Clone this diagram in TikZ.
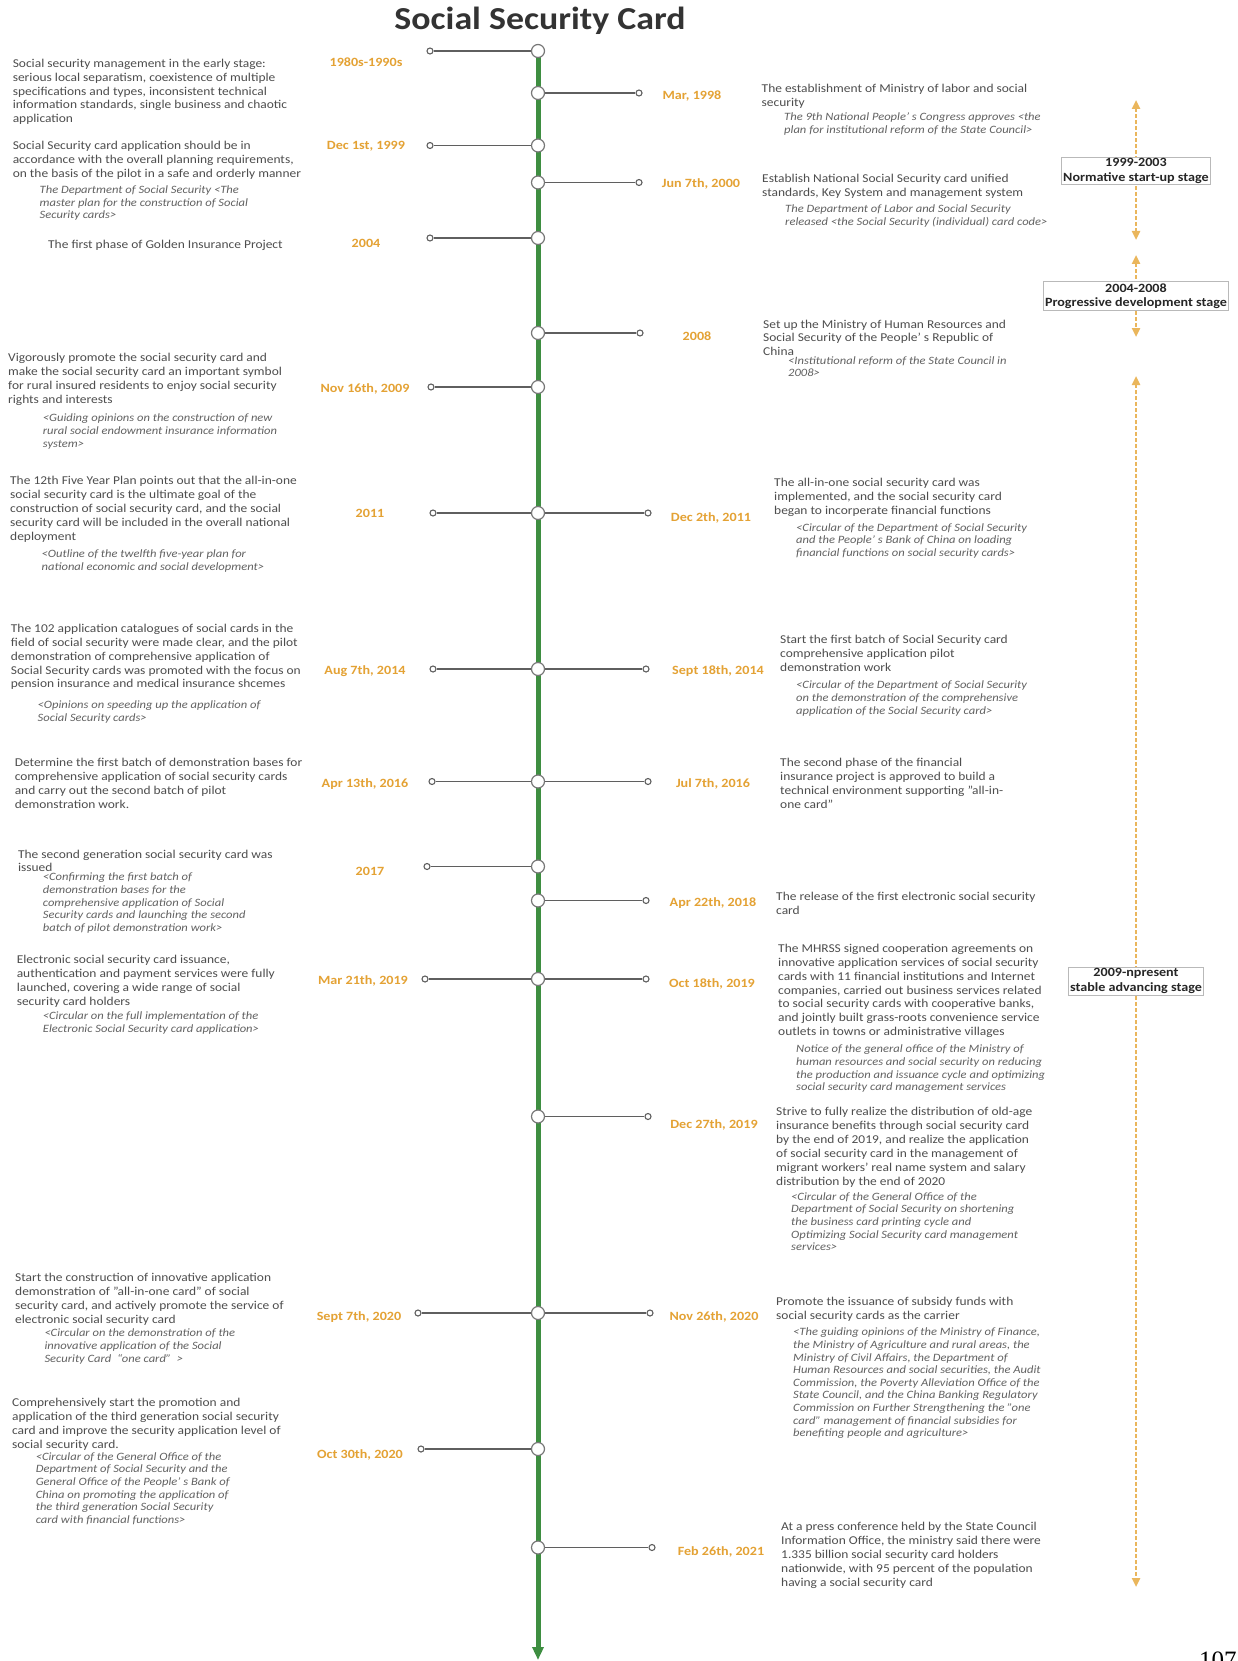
\documentclass[tikz,border=0pt]{standalone}
\usepackage{fontspec}
\setmainfont{Carlito}[FakeStretch=1.12]
\newfontfamily\pagefont{Liberation Serif}
\usetikzlibrary{arrows.meta}
\definecolor{tlgreen}{RGB}{62,142,65}
\definecolor{bodygray}{RGB}{78,78,78}
\definecolor{citegray}{RGB}{98,98,98}
\definecolor{dateorange}{RGB}{228,162,52}
\definecolor{linegray}{RGB}{95,95,95}
\definecolor{stageorange}{RGB}{234,182,92}
\newcommand\mylines[1]{\begin{tabular}[t]{@{}l@{}}#1\end{tabular}}
\begin{document}
\begin{tikzpicture}[x=1pt,y=-1pt,
  bigdot/.style={circle, draw=linegray!85, fill=white, line width=1.2, minimum size=13, inner sep=0},
  smalldot/.style={circle, draw=linegray, fill=white, line width=1.1, minimum size=6, inner sep=0},
  conn/.style={draw=linegray, line width=1.4},
  bodytext/.style={anchor=base west, inner sep=0, text=bodygray, font=\fontsize{12}{13.9}\selectfont},
  citetext/.style={anchor=base west, inner sep=0, text=citegray, font=\fontsize{11.2}{12.6}\selectfont\itshape},
  datelabel/.style={anchor=center, inner sep=0, text=dateorange, font=\fontsize{12.6}{14}\selectfont\bfseries, text height=8, text depth=0},
  stagearrow/.style={draw=stageorange, line width=2.2, dash pattern=on 4 off 2,
     {Triangle[width=8,length=9,fill=stageorange]}-{Triangle[width=8,length=9,fill=stageorange]}},
  stagebox/.style={draw=gray!55, fill=white, line width=0.8, inner xsep=1.5, inner ysep=1.5, align=center, text=black!85, font=\fontsize{12.6}{14.4}\selectfont\bfseries},
  timeline/.style={draw=tlgreen, line width=5, -{Triangle[width=11,length=13,fill=tlgreen]}}
]
\clip (0,0) rectangle (1237,1661);
\fill[white] (0,0) rectangle (1237,1661);

% title
\node[font=\fontsize{32}{36}\selectfont\bfseries, text=black!80, inner sep=0] (title) at (540,21) {Social Security Card};

% timeline
\coordinate (ttop) at (538,51);
\coordinate (tend) at (538,1660);
\draw[timeline] (ttop) -- (tend);

% timeline circles
\node[bigdot] (tA) at (538,51) {};
\node[bigdot] (tB) at (538,93) {};
\node[bigdot] (tC) at (538,145.5) {};
\node[bigdot] (tD) at (538,182.5) {};
\node[bigdot] (tE) at (538,238) {};
\node[bigdot] (tF) at (538,333) {};
\node[bigdot] (tG) at (538,387) {};
\node[bigdot] (tH) at (538,513) {};
\node[bigdot] (tI) at (538,669) {};
\node[bigdot] (tJ) at (538,781.5) {};
\node[bigdot] (tK) at (538,866.5) {};
\node[bigdot] (tL) at (538,900.5) {};
\node[bigdot] (tM) at (538,979) {};
\node[bigdot] (tN) at (538,1116.5) {};
\node[bigdot] (tO) at (538,1313) {};
\node[bigdot] (tP) at (538,1449) {};
\node[bigdot] (tQ) at (538,1547.5) {};

% left end dots
\node[smalldot] (lA) at (430,51) {};
\node[smalldot] (lC) at (430,145.5) {};
\node[smalldot] (lE) at (430,238) {};
\node[smalldot] (lG) at (431,387) {};
\node[smalldot] (lH) at (433,513) {};
\node[smalldot] (lI) at (433,669) {};
\node[smalldot] (lJ) at (432,781.5) {};
\node[smalldot] (lK) at (427,866.5) {};
\node[smalldot] (lM) at (425,979) {};
\node[smalldot] (lO) at (418,1313) {};
\node[smalldot] (lP) at (421,1449) {};

% right end dots
\node[smalldot] (rB) at (639,93) {};
\node[smalldot] (rD) at (639,182.5) {};
\node[smalldot] (rF) at (640,333) {};
\node[smalldot] (rH) at (648,513) {};
\node[smalldot] (rI) at (646,669) {};
\node[smalldot] (rJ) at (648,781.5) {};
\node[smalldot] (rL) at (646,900.5) {};
\node[smalldot] (rM) at (646,979) {};
\node[smalldot] (rN) at (648,1116.5) {};
\node[smalldot] (rO) at (650,1313) {};
\node[smalldot] (rQ) at (652,1547.5) {};

% connectors
\foreach \a/\b in {tA/lA,tC/lC,tE/lE,tG/lG,tH/lH,tI/lI,tJ/lJ,tK/lK,tM/lM,tO/lO,tP/lP,
                   tB/rB,tD/rD,tF/rF,tH/rH,tI/rI,tJ/rJ,tL/rL,tM/rM,tN/rN,tO/rO,tQ/rQ}
  \draw[conn] (\a) -- (\b);

% date labels left
\node[datelabel] (dA) at (366,63) {1980s-1990s};
\node[datelabel] (dC) at (366,146) {Dec 1st, 1999};
\node[datelabel] (dE) at (366,244) {2004};
\node[datelabel] (dG) at (365,388) {Nov 16th, 2009};
\node[datelabel] (dH) at (370,513) {2011};
\node[datelabel] (dI) at (365,670) {Aug 7th, 2014};
\node[datelabel] (dJ) at (365,783) {Apr 13th, 2016};
\node[datelabel] (dK) at (370,871) {2017};
\node[datelabel] (dM) at (363,980) {Mar 21th, 2019};
\node[datelabel] (dO) at (359,1316) {Sept 7th, 2020};
\node[datelabel] (dP) at (360,1454) {Oct 30th, 2020};

% date labels right
\node[datelabel] (eB) at (692,96) {Mar, 1998};
\node[datelabel] (eD) at (701,184) {Jun 7th, 2000};
\node[datelabel] (eF) at (697,337) {2008};
\node[datelabel] (eH) at (711,517) {Dec 2th, 2011};
\node[datelabel] (eI) at (718,670) {Sept 18th, 2014};
\node[datelabel] (eJ) at (713,783) {Jul 7th, 2016};
\node[datelabel] (eL) at (713,902) {Apr 22th, 2018};
\node[datelabel] (eM) at (712,983) {Oct 18th, 2019};
\node[datelabel] (eN) at (714,1124) {Dec 27th, 2019};
\node[datelabel] (eO) at (714,1316) {Nov 26th, 2020};
\node[datelabel] (eQ) at (721,1551) {Feb 26th, 2021};

% left texts
\node[bodytext] (xA) at (12.6,67.3) {\mylines{Social security management in the early stage:\\serious local separatism, coexistence of multiple\\specifications and types, inconsistent technical\\information standards, single business and chaotic\\application}};
\node[bodytext] (xC) at (12.6,150) {\mylines{Social Security card application should be in\\accordance with the overall planning requirements,\\on the basis of the pilot in a safe and orderly manner}};
\node[citetext] (cC) at (39.5,193.5) {\mylines{The Department of Social Security <The\\master plan for the construction of Social\\Security cards>}};
\node[bodytext] (xE) at (48,248.3) {\mylines{The first phase of Golden Insurance Project}};
\node[bodytext] (xG) at (8,361.3) {\mylines{Vigorously promote the social security card and\\make the social security card an important symbol\\for rural insured residents to enjoy social security\\rights and interests}};
\node[citetext] (cG) at (42.7,421.8) {\mylines{<Guiding opinions on the construction of new\\rural social endowment insurance information\\system>}};
\node[bodytext] (xH) at (10,484.7) {\mylines{The 12th Five Year Plan points out that the all-in-one\\social security card is the ultimate goal of the\\construction of social security card, and the social\\security card will be included in the overall national\\deployment}};
\node[citetext] (cH) at (41.5,557.8) {\mylines{<Outline of the twelfth five-year plan for\\national economic and social development>}};
\node[bodytext] (xI) at (10.7,632.3) {\mylines{The 102 application catalogues of social cards in the\\field of social security were made clear, and the pilot\\demonstration of comprehensive application of\\Social Security cards was promoted with the focus on\\pension insurance and medical insurance shcemes}};
\node[citetext] (cI) at (37.5,708.5) {\mylines{<Opinions on speeding up the application of\\Social Security cards>}};
\node[bodytext] (xJ) at (14.6,766.3) {\mylines{Determine the first batch of demonstration bases for\\comprehensive application of social security cards\\and carry out the second batch of pilot\\demonstration work.}};
\node[bodytext] (xK) at (17.8,858) {\mylines{The second generation social security card was\\issued}};
\node[citetext] (cK) at (42.7,880.8) {\mylines{<Confirming the first batch of\\demonstration bases for the\\comprehensive application of Social\\Security cards and launching the second\\batch of pilot demonstration work>}};
\node[bodytext] (xM) at (16.6,963.3) {\mylines{Electronic social security card issuance,\\authentication and payment services were fully\\launched, covering a wide range of social\\security card holders}};
\node[citetext] (cM) at (42.7,1019.5) {\mylines{<Circular on the full implementation of the\\Electronic Social Security card application>}};
\node[bodytext] (xO) at (15,1281.7) {\mylines{Start the construction of innovative application\\demonstration of "all-in-one card" of social\\security card, and actively promote the service of\\electronic social security card}};
\node[citetext] (cO) at (44.3,1336.8) {\mylines{<Circular on the demonstration of the\\innovative application of the Social\\Security Card \ “one card” \ >}};
\node[bodytext] (xP) at (11.9,1406.7) {\mylines{Comprehensively start the promotion and\\application of the third generation social security\\card and improve the security application level of\\social security card.}};
\node[citetext] (cP) at (35.6,1460.2) {\mylines{<Circular of the General Office of the\\Department of Social Security and the\\General Office of the People’ s Bank of\\China on promoting the application of\\the third generation Social Security\\card with financial functions>}};

% right texts
\node[bodytext] (yB) at (761.5,92.3) {\mylines{The establishment of Ministry of labor and social\\security}};
\node[citetext] (kB) at (784,120.8) {\mylines{The 9th National People’ s Congress approves <the\\plan for institutional reform of the State Council>}};
\node[bodytext] (yD) at (762,183) {\mylines{Establish National Social Security card unified\\standards, Key System and management system}};
\node[citetext] (kD) at (785,212.5) {\mylines{The Department of Labor and Social Security\\released <the Social Security (individual) card code>}};
\node[bodytext] (yF) at (763,328) {\mylines{Set up the Ministry of Human Resources and\\Social Security of the People’ s Republic of\\China}};
\node[citetext] (kF) at (788,364.2) {\mylines{<Institutional reform of the State Council in\\2008>}};
\node[bodytext] (yH) at (774,486.7) {\mylines{The all-in-one social security card was\\implemented, and the social security card\\began to incorperate financial functions}};
\node[citetext] (kH) at (796,531.2) {\mylines{<Circular of the Department of Social Security\\and the People’ s Bank of China on loading\\financial functions on social security cards>}};
\node[bodytext] (yI) at (780,643.3) {\mylines{Start the first batch of Social Security card\\comprehensive application pilot\\demonstration work}};
\node[citetext] (kI) at (796,688.8) {\mylines{<Circular of the Department of Social Security\\on the demonstration of the comprehensive\\application of the Social Security card>}};
\node[bodytext] (yJ) at (780,766.3) {\mylines{The second phase of the financial\\insurance project is approved to build a\\technical environment supporting "all-in-\\one card"}};
\node[bodytext] (yL) at (776,900.7) {\mylines{The release of the first electronic social security\\card}};
\node[bodytext] (yM) at (778,952.3) {\mylines{The MHRSS signed cooperation agreements on\\innovative application services of social security\\cards with 11 financial institutions and Internet\\companies, carried out business services related\\to social security cards with cooperative banks,\\and jointly built grass-roots convenience service\\outlets in towns or administrative villages}};
\node[citetext] (kM) at (796,1052.8) {\mylines{Notice of the general office of the Ministry of\\human resources and social security on reducing\\the production and issuance cycle and optimizing\\social security card management services}};
\node[bodytext] (yN) at (776,1115.7) {\mylines{Strive to fully realize the distribution of old-age\\insurance benefits through social security card\\by the end of 2019, and realize the application\\of social security card in the management of\\migrant workers' real name system and salary\\distribution by the end of 2020}};
\node[citetext] (kN) at (791,1200.2) {\mylines{<Circular of the General Office of the\\Department of Social Security on shortening\\the business card printing cycle and\\Optimizing Social Security card management\\services>}};
\node[bodytext] (yO) at (776,1305.7) {\mylines{Promote the issuance of subsidy funds with\\social security cards as the carrier}};
\node[citetext] (kO) at (793,1335.8) {\mylines{<The guiding opinions of the Ministry of Finance,\\the Ministry of Agriculture and rural areas, the\\Ministry of Civil Affairs, the Department of\\Human Resources and social securities, the Audit\\Commission, the Poverty Alleviation Office of the\\State Council, and the China Banking Regulatory\\Commission on Further Strengthening the "one\\card" management of financial subsidies for\\benefiting people and agriculture>}};
\node[bodytext] (yQ) at (781,1530.7) {\mylines{At a press conference held by the State Council\\Information Office, the ministry said there were\\1.335 billion social security card holders\\nationwide, with 95 percent of the population\\having a social security card}};

% stage arrows
\coordinate (s1t) at (1136,100);
\coordinate (s1b) at (1136,240);
\coordinate (s2t) at (1136,255);
\coordinate (s2b) at (1136,337);
\coordinate (s3t) at (1136,376);
\coordinate (s3b) at (1136,1587);
\draw[stagearrow] (s1t) -- (s1b);
\draw[stagearrow] (s2t) -- (s2b);
\draw[stagearrow] (s3t) -- (s3b);
\node[stagebox] (st1) at (1136,171) {1999-2003\\Normative start-up stage};
\node[stagebox] (st2) at (1136,296) {2004-2008\\Progressive development stage};
\node[stagebox] (st3) at (1136,981) {2009-npresent\\stable advancing stage};

% page number
\node[anchor=base west, inner sep=0, font=\pagefont\fontsize{25}{28}\selectfont] (pg) at (1199,1668) {107};
\end{tikzpicture}
\end{document}
